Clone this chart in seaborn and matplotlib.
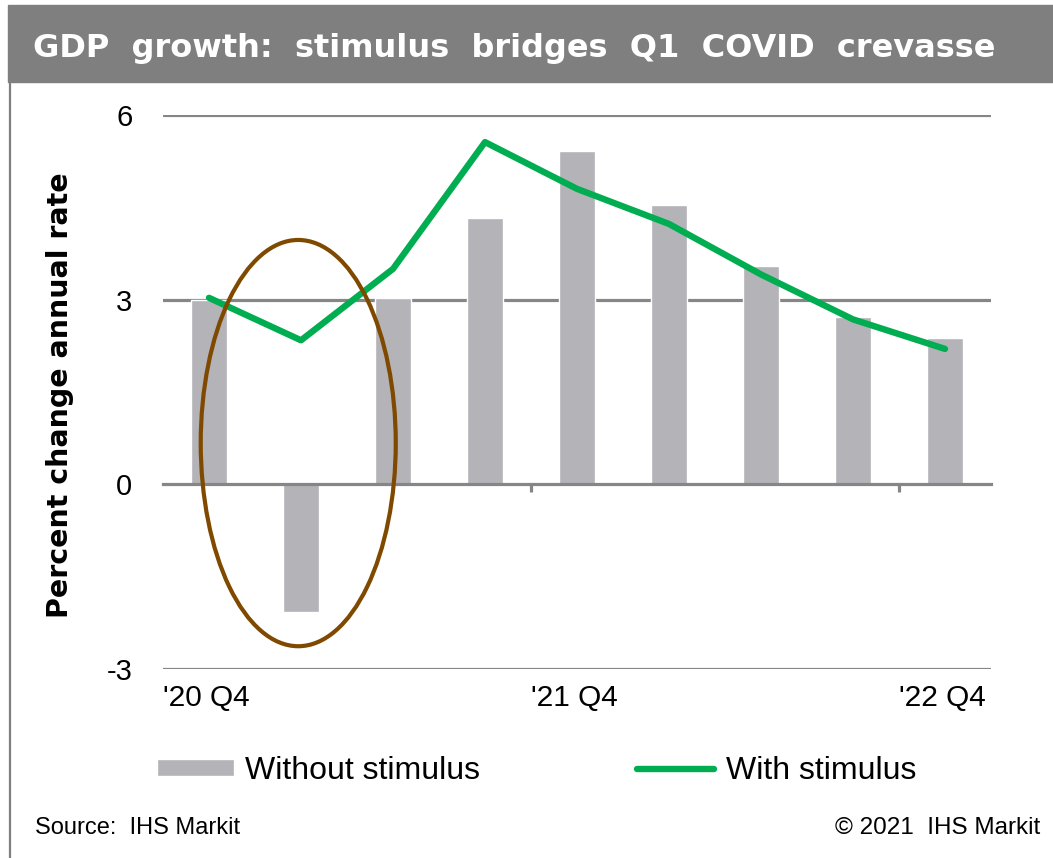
import numpy as np
import pandas as pd
import matplotlib
matplotlib.use('Agg')
import matplotlib.pyplot as plt
from matplotlib.patches import Ellipse, Rectangle
from matplotlib.lines import Line2D
import seaborn as sns

# Dados
trimestres = ["'20 Q4", "'21 Q1", "'21 Q2", "'21 Q3", "'21 Q4",
              "'22 Q1", "'22 Q2", "'22 Q3", "'22 Q4"]
sem_estimulo = [3.0, -2.07, 3.03, 4.33, 5.42, 4.53, 3.55, 2.72, 2.37]
com_estimulo = [3.03, 2.34, 3.5, 5.56, 4.8, 4.23, 3.41, 2.68, 2.2]
rotulos_x = ["'20 Q4", "'21 Q4", "'22 Q4"]
posicoes_rotulos = [-0.5, 3.5, 7.5]
yticks = [-3, 0, 3, 6]

df = pd.DataFrame({'Trimestre': trimestres,
                   'Sem': sem_estimulo,
                   'Com': com_estimulo,
                   'pos': np.arange(len(trimestres))})

sns.set_theme(style='white')
plt.rcParams['font.family'] = ['Liberation Sans', 'DejaVu Sans']
plt.rcParams['text.color'] = 'black'
plt.rcParams['axes.labelcolor'] = 'black'
plt.rcParams['xtick.labelcolor'] = 'black'
plt.rcParams['ytick.labelcolor'] = 'black'

cinza_barra = '#B3B3B8'
verde = '#00AD50'
cinza_grade = '#868686'

fig = plt.figure(figsize=(10.53, 8.58), dpi=100)
ax = fig.add_axes([163 / 1053, 1 - 669 / 858, (991 - 163) / 1053, (669 - 115) / 858])

sns.barplot(data=df, x='Trimestre', y='Sem', color=cinza_barra, saturation=1,
            width=0.4, ax=ax, label='Without stimulus')
sns.lineplot(data=df, x='pos', y='Com', color=verde, linewidth=4.6, ax=ax,
             label='With stimulus', solid_capstyle='round')

ax.set_xlim(-0.5, 8.5)
ax.set_ylim(-3, 6)
ax.set_yticks(yticks)
ax.set_yticklabels([str(v) for v in yticks], fontsize=21)
ax.tick_params(axis='y', length=0, pad=22)
for v in [-3, 3, 6]:
    ax.axhline(v, color=cinza_grade, lw=2.3, zorder=0)

for s in ['top', 'right', 'left']:
    ax.spines[s].set_visible(False)
ax.spines['bottom'].set_position(('data', 0))
ax.spines['bottom'].set_color(cinza_grade)
ax.spines['bottom'].set_linewidth(2.3)
ax.spines['bottom'].set_zorder(1)

ax.set_xticks(posicoes_rotulos)
ax.set_xticklabels(rotulos_x, fontsize=21.5, ha='left')
ax.tick_params(axis='x', direction='out', length=6, width=2.3, color=cinza_grade,
               pad=138, bottom=True)
ax.xaxis.get_major_ticks()[0].tick1line.set_visible(False)
ax.set_xlabel('')
ax.set_ylabel('Percent change annual rate', fontsize=20.5, fontweight='bold',
              family='DejaVu Sans', color='black')
ax.yaxis.set_label_coords(-0.108, 0.495)

# Elipse destacando o Q1 de 2021
ax.add_patch(Ellipse((0.97, 0.67), 2.12, 6.6, fill=False, edgecolor='#7F4A00', lw=3,
                     zorder=5))

ax.get_legend().remove()
h, l = ax.get_legend_handles_labels()
ordem = [l.index('Without stimulus'), l.index('With stimulus')]
fig.legend([h[i] for i in ordem], [l[i] for i in ordem], loc='center left',
           bbox_to_anchor=(157 / 1053, 1 - 771 / 858), borderpad=0, borderaxespad=0,
           ncol=2, frameon=False, fontsize=23, handlelength=2.4, handleheight=0.47,
           handletextpad=0.37, columnspacing=4.9, labelcolor='black')

# Faixa do título
fig.patches.append(Rectangle((8 / 1053, 1 - 82 / 858), 1, 77 / 858,
                             transform=fig.transFigure, color='#7F7F7F', zorder=0))
fig.lines.append(Line2D([9.5 / 1053, 9.5 / 1053], [0, 1 - 82 / 858],
                        transform=fig.transFigure, color='#7F7F7F', lw=1.6))
fig.text(33 / 1053, 1 - 57 / 858, 'GDP  growth:  stimulus  bridges  Q1  COVID  crevasse',
         color='white', fontsize=23, fontweight='bold', family='DejaVu Sans',
         va='baseline', ha='left')

fig.text(35 / 1053, 1 - 828 / 858, 'Source:  IHS Markit', fontsize=17, va='center')
fig.text(1040 / 1053, 1 - 828 / 858, '© 2021  IHS Markit', fontsize=17.5, va='center',
         ha='right')

plt.savefig('out.png', dpi=100)
